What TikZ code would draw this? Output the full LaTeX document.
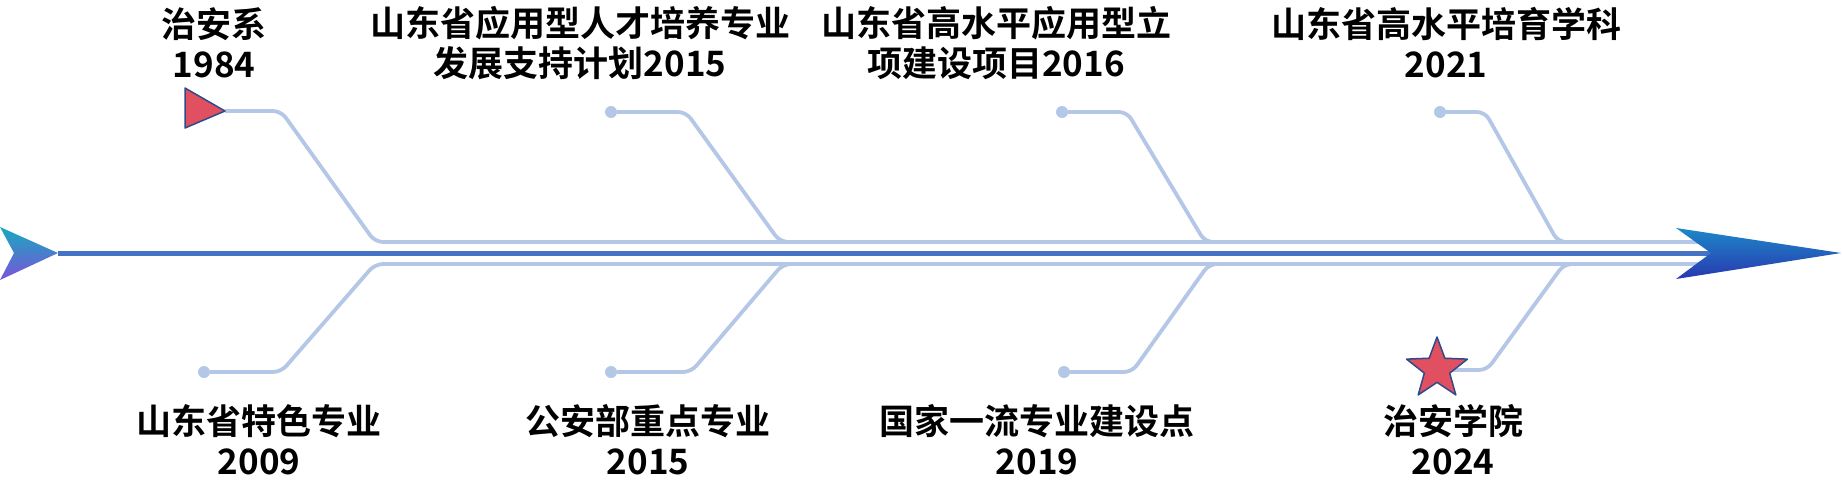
\documentclass[tikz,border=0pt]{standalone}
\usepackage{fontspec}
\usepackage{tikz}
\usetikzlibrary{shapes.geometric}
\newfontfamily\cjk{Noto Sans CJK SC}[BoldFont={Noto Sans CJK SC Bold}]
\definecolor{mainblue}{RGB}{68,114,196}
\definecolor{branchgrey}{RGB}{180,199,231}
\definecolor{flagred}{RGB}{224,80,96}
\definecolor{flagedge}{RGB}{47,74,138}
\definecolor{headteal}{RGB}{22,170,192}
\definecolor{headpurple}{RGB}{124,82,216}
\definecolor{headsky}{RGB}{30,136,200}
\definecolor{headnavy}{RGB}{40,56,176}
\tikzset{
    branch/.style={
        draw=branchgrey,
        line width=3.8pt,
        rounded corners=8pt
    },
    knot/.style={circle, fill=branchgrey, inner sep=0pt, minimum size=12pt},
    flag/.style={fill=flagred, draw=flagedge, line width=1.5pt, line join=round},
    milestone/.style={
        align=center,
        font=\cjk\bfseries\fontsize{35}{40}\selectfont,
        text=black
    }
}
\newcommand{\upperBranch}[4] {
	\node[knot] (#1) at (#2,112) {};
	\coordinate (#1c) at (#3,112);
	\coordinate (#1e) at (#4,242);
	\draw[branch] (#1) -- (#1c) -- (#1e) -- ([xshift=40pt]#1e);
}
\newcommand{\lowerBranch}[4] {
	\node[knot] (#1) at (#2,372) {};
	\coordinate (#1c) at (#3,372);
	\coordinate (#1e) at (#4,264);
	\draw[branch] (#1) -- (#1c) -- (#1e) -- ([xshift=40pt]#1e);
}

\begin{document}
\begin{tikzpicture}[x=1pt, y=-1pt]
		\useasboundingbox (0,0) rectangle (1842,480);

		% spine ends
		\coordinate (tail) at (58,253);
		\coordinate (notch) at (1711,253);
		\coordinate (upEnd) at (1700,242);
		\coordinate (downEnd) at (1700,264);

		% upper branches
		\coordinate (u1) at (225,111);
		\coordinate (u1c) at (281,111);
		\coordinate (u1e) at (375,242);
		\draw[branch] (u1) -- (u1c) -- (u1e) -- (upEnd);
		\upperBranch{u2}{611}{686}{780}
		\upperBranch{u3}{1062}{1127}{1205}
		\upperBranch{u4}{1440}{1485}{1558}

		% lower branches
		\node[knot] (d1) at (204,372) {};
		\coordinate (d1c) at (281,372);
		\coordinate (d1e) at (375,264);
		\draw[branch] (d1) -- (d1c) -- (d1e) -- (downEnd);
		\lowerBranch{d2}{611}{691}{783}
		\lowerBranch{d3}{1064}{1132}{1209}
		\coordinate (d4) at (1437,370);
		\coordinate (d4c) at (1487,370);
		\coordinate (d4e) at (1564,264);
		\draw[branch] (d4) -- (d4c) -- (d4e) -- ([xshift=40pt]d4e);

		% main line and heads
		\draw[mainblue, line width=5pt] (tail) -- (notch);
		\shade[top color=headteal, bottom color=headpurple] (0,227) -- (tail) -- (0,280) -- (14,253) -- cycle;
		\shade[top color=headsky, bottom color=headnavy] (1676,228) -- (1841,253) -- (1676,279) -- (notch) -- cycle;

		% markers
		\filldraw[flag] (185,88) -- (u1) -- (185,128) -- cycle;
		\node[flag, star, star points=5, star point ratio=2.4, minimum size=64pt, inner sep=0pt] (star) at (1437,369) {};

		% texts
		\node[milestone] (t1) at (214,43) {治安系\\1984};
		\node[milestone] (t2) at (580,43) {山东省应用型人才培养专业\\发展支持计划2015};
		\node[milestone] (t3) at (996,43) {山东省高水平应用型立\\项建设项目2016};
		\node[milestone] (t4) at (1446,43) {山东省高水平培育学科\\2021};
		\node[milestone] (b1) at (259,440) {山东省特色专业\\2009};
		\node[milestone] (b2) at (648,440) {公安部重点专业\\2015};
		\node[milestone] (b3) at (1037,440) {国家一流专业建设点\\2019};
		\node[milestone] (b4) at (1453,440) {治安学院\\2024};

	\end{tikzpicture}
\end{document}
